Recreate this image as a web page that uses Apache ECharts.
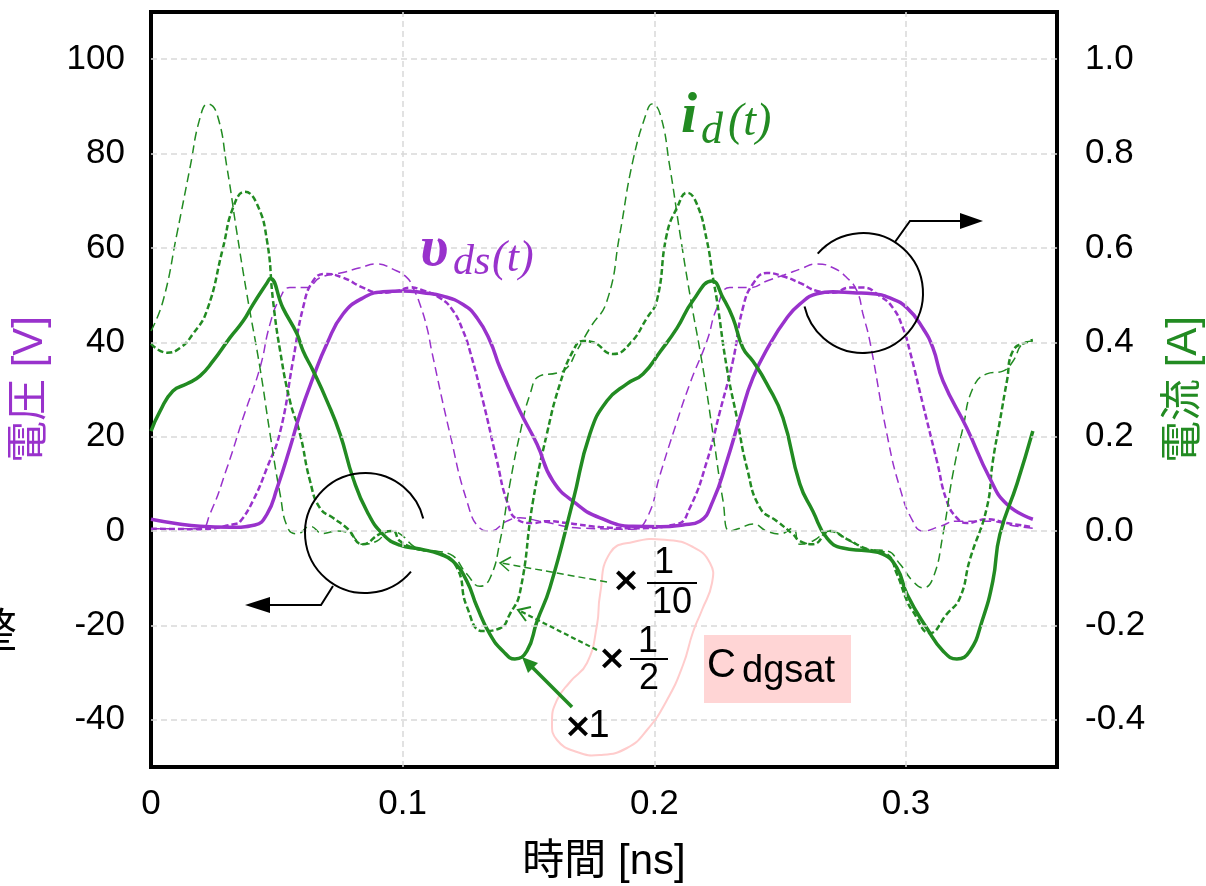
<!DOCTYPE html>
<html>
<head>
<meta charset="utf-8">
<script src="https://cdn.jsdelivr.net/npm/echarts@6/dist/echarts.min.js"></script>
<style>
  html, body { margin: 0; padding: 0; background: #fff; }
  #chart { width: 1206px; height: 886px; }
</style>
</head>
<body>
<div id="chart"></div>
<script>
// Drain-source voltage v_ds(t) [V] for C_dgsat x1, x1/2, x1/10 : [time ns, volts]
const vdsX1 = [
  [0, 2.5], [0.0099, 1.6], [0.0195, 1.0], [0.0314, 0.8], [0.0413, 1.3], [0.0461, 3.6],
  [0.0501, 9.1], [0.0552, 17.6], [0.0592, 24.8], [0.0644, 32.5], [0.0699, 39.7],
  [0.0763, 46], [0.0842, 49.4], [0.0922, 50.7], [0.1001, 50.9], [0.1081, 50.5],
  [0.116, 49.8], [0.124, 48], [0.1295, 45.2], [0.1347, 40.3], [0.1387, 34.6],
  [0.1466, 25.4], [0.1534, 18.4], [0.1597, 10.6], [0.1692, 5.7], [0.1784, 2.8],
  [0.1915, 1.0], [0.2023, 0.9], [0.2114, 1.3], [0.2181, 2.1], [0.2233, 6.4],
  [0.2288, 14.8], [0.234, 24], [0.2392, 32.5], [0.2459, 39.6], [0.2527, 45.2],
  [0.2578, 48.1], [0.2646, 50.3], [0.271, 50.7], [0.2789, 50.5], [0.2868, 50.3],
  [0.2936, 49.4], [0.3004, 47.3], [0.3067, 43], [0.3107, 38.8], [0.3147, 31.8],
  [0.3242, 21.8], [0.3333, 11.2], [0.3401, 5.7], [0.3504, 2.5]
];
const vdsHalf = [
  [0, 0.5], [0.0195, 0.4], [0.0334, 1.5], [0.0354, 2.0], [0.0405, 6.4], [0.0461, 13.4],
  [0.0513, 21], [0.0564, 36], [0.0604, 47.3], [0.0644, 53], [0.0691, 54.5],
  [0.0763, 53.7], [0.0842, 51.6], [0.091, 50.5], [0.0977, 50.9], [0.1029, 51.6],
  [0.1081, 51], [0.1148, 49.4], [0.12, 46.7], [0.124, 42.4], [0.1267, 38.2],
  [0.1319, 27.6], [0.1375, 14.8], [0.1414, 6.4], [0.1454, 2.5], [0.1518, 1.7],
  [0.1573, 2.1], [0.1653, 1.7], [0.1784, 0.85], [0.1915, 0.6], [0.209, 1.5],
  [0.2141, 4.9], [0.2209, 14.8], [0.2261, 25.4], [0.2312, 36], [0.2352, 47.3],
  [0.2392, 52.4], [0.2447, 54.7], [0.2511, 54], [0.2578, 52.6], [0.2646, 50.9],
  [0.271, 50.5], [0.2777, 51.6], [0.2829, 51.6], [0.2896, 49.8], [0.2948, 47.3],
  [0.2988, 43], [0.3015, 38.2], [0.3067, 26.9], [0.3123, 14.8], [0.3162, 6.4],
  [0.3202, 2.8], [0.3242, 1.7], [0.3321, 2.5], [0.3401, 1.7], [0.3504, 0.85]
];
const vdsTenth = [
  [0, 0.5], [0.0195, 0.5], [0.0234, 3.6], [0.0302, 13.4], [0.0366, 24], [0.0433, 34.6],
  [0.0473, 43.9], [0.0513, 49.4], [0.0552, 51.6], [0.062, 51.6], [0.0671, 53.7],
  [0.0763, 54.8], [0.083, 55.8], [0.0898, 56.6], [0.0961, 55.5], [0.1017, 53.7],
  [0.1041, 51.6], [0.1069, 48], [0.1097, 43], [0.1116, 38], [0.1188, 20.6],
  [0.1255, 6.4], [0.1307, 0.6], [0.1347, 0], [0.1414, 2.1], [0.1466, 2.8],
  [0.1545, 2.1], [0.1716, 0.6], [0.1915, 0.4], [0.1971, 2.8], [0.2023, 12],
  [0.2074, 20.6], [0.2141, 31.2], [0.2209, 40.3], [0.2249, 47.3], [0.23, 51.6],
  [0.238, 51.6], [0.2447, 53], [0.2527, 54.5], [0.2578, 55.5], [0.2646, 56.6],
  [0.271, 55.8], [0.2765, 53.7], [0.2805, 50.9], [0.2829, 46], [0.2856, 40.3],
  [0.2924, 20.6], [0.2976, 9.1], [0.3027, 2.1], [0.3067, 0], [0.3135, 1],
  [0.3202, 2.1], [0.3321, 2.1], [0.3441, 1], [0.3504, 0.6]
];

// Drain current i_d(t) [A] for the same three cases : [time ns, amperes]
const idX1 = [
  [0, 0.212], [0.0036, 0.254], [0.0087, 0.297], [0.0143, 0.312], [0.0195, 0.329],
  [0.0246, 0.36], [0.0314, 0.41], [0.0366, 0.445], [0.0405, 0.48], [0.0461, 0.526],
  [0.0473, 0.535], [0.0524, 0.473], [0.058, 0.418], [0.0604, 0.382], [0.0644, 0.34],
  [0.0699, 0.276], [0.0751, 0.206], [0.0803, 0.112], [0.0858, 0.042], [0.0922, -0.007],
  [0.0989, -0.03], [0.1069, -0.038], [0.1148, -0.049], [0.12, -0.064], [0.1255, -0.106],
  [0.1295, -0.16], [0.1347, -0.219], [0.1398, -0.254], [0.1446, -0.271], [0.1494, -0.254],
  [0.1534, -0.191], [0.1585, -0.12], [0.1677, 0.064], [0.1744, 0.206], [0.1812, 0.276],
  [0.1891, 0.312], [0.1955, 0.333], [0.2023, 0.38], [0.209, 0.43], [0.2153, 0.488],
  [0.2229, 0.53], [0.2273, 0.494], [0.2312, 0.452], [0.2352, 0.388], [0.2392, 0.36],
  [0.2447, 0.312], [0.2511, 0.24], [0.2578, 0.1], [0.263, 0.042], [0.2686, -0.015],
  [0.2749, -0.036], [0.2845, -0.042], [0.2908, -0.049], [0.2964, -0.078], [0.3004, -0.134],
  [0.3083, -0.206], [0.3147, -0.254], [0.3202, -0.271], [0.3254, -0.254], [0.3302, -0.191],
  [0.3345, -0.106], [0.3373, -0.007], [0.3441, 0.1], [0.3504, 0.212]
];
const idHalf = [
  [0, 0.397], [0.0064, 0.378], [0.0115, 0.388], [0.0167, 0.418], [0.0222, 0.467],
  [0.0286, 0.6], [0.0326, 0.685], [0.0373, 0.719], [0.0421, 0.693], [0.0461, 0.615],
  [0.0485, 0.488], [0.0513, 0.382], [0.0552, 0.276], [0.0592, 0.206], [0.0632, 0.106],
  [0.0671, 0.049], [0.0723, 0.028], [0.0779, 0.006], [0.0842, -0.028], [0.091, -0.006],
  [0.0961, 0], [0.0989, -0.021], [0.1057, -0.038], [0.1148, -0.047], [0.1216, -0.078],
  [0.1255, -0.16], [0.1319, -0.212], [0.1387, -0.206], [0.1426, -0.176], [0.1466, -0.13],
  [0.1518, 0.064], [0.1573, 0.206], [0.1625, 0.312], [0.1677, 0.382], [0.1716, 0.403],
  [0.1756, 0.4], [0.1836, 0.375], [0.1903, 0.397], [0.1971, 0.452], [0.201, 0.488],
  [0.205, 0.63], [0.209, 0.685], [0.213, 0.717], [0.2169, 0.693], [0.2209, 0.615],
  [0.2233, 0.537], [0.2249, 0.488], [0.2288, 0.346], [0.2328, 0.24], [0.2368, 0.134],
  [0.242, 0.049], [0.2487, 0.021], [0.2551, -0.007], [0.2578, -0.021], [0.263, -0.028],
  [0.2698, 0], [0.2765, -0.017], [0.2845, -0.038], [0.2924, -0.049], [0.2964, -0.091],
  [0.3004, -0.148], [0.3027, -0.17], [0.3095, -0.216], [0.3162, -0.176], [0.3214, -0.142],
  [0.3254, -0.06], [0.3321, 0.049], [0.3345, 0.148], [0.3373, 0.233], [0.3401, 0.318],
  [0.3425, 0.382], [0.3492, 0.403], [0.3504, 0.405]
];
const idTenth = [
  [0, 0.424], [0.0048, 0.488], [0.0103, 0.63], [0.0155, 0.77], [0.0195, 0.876],
  [0.0226, 0.905], [0.0262, 0.884], [0.0302, 0.77], [0.0342, 0.63], [0.0381, 0.502],
  [0.0433, 0.346], [0.0473, 0.206], [0.0513, 0.078], [0.0544, 0.006], [0.058, -0.006],
  [0.0632, 0.01], [0.0683, -0.005], [0.0739, 0], [0.0791, -0.006], [0.0842, -0.028],
  [0.0898, -0.021], [0.095, 0], [0.0989, -0.006], [0.1057, -0.036], [0.112, -0.042],
  [0.1188, -0.049], [0.1255, -0.091], [0.1307, -0.117], [0.1347, -0.1], [0.1387, -0.021],
  [0.1426, 0.1], [0.1466, 0.206], [0.1506, 0.29], [0.1545, 0.329], [0.1613, 0.335],
  [0.1653, 0.346], [0.1692, 0.382], [0.1744, 0.43], [0.1812, 0.488], [0.1863, 0.63],
  [0.1915, 0.785], [0.1971, 0.89], [0.199, 0.905], [0.2023, 0.884], [0.2062, 0.77],
  [0.2102, 0.63], [0.2141, 0.502], [0.2193, 0.346], [0.2233, 0.206], [0.2273, 0.064],
  [0.23, 0], [0.234, 0.006], [0.2392, 0.015], [0.2447, 0], [0.2499, -0.006],
  [0.2551, 0.006], [0.2578, -0.028], [0.263, -0.021], [0.2698, 0], [0.2777, -0.021],
  [0.2845, -0.038], [0.2924, -0.042], [0.2976, -0.07], [0.3027, -0.106], [0.3067, -0.12],
  [0.3107, -0.1], [0.3147, -0.007], [0.3186, 0.12], [0.3226, 0.218], [0.3266, 0.303],
  [0.3321, 0.333], [0.3385, 0.339], [0.3425, 0.36], [0.3464, 0.397], [0.3504, 0.403]
];

// Tick labels
const xTickLabels = ['0', '0.1', '0.2', '0.3'];
const voltTickLabels = ['-40', '-20', '0', '20', '40', '60', '80', '100'];
const ampTickLabels = ['-0.4', '-0.2', '0.0', '0.2', '0.4', '0.6', '0.8', '1.0'];

const PURPLE = '#9932CC';
const GREEN = '#228B22';
const GRIDLINE = '#d9d9d9';
const SANS = "'Liberation Sans', Arial, sans-serif";
const CJK = "'Liberation Sans', 'Noto Sans CJK JP', sans-serif";
const SERIF = "'Liberation Serif', 'DejaVu Serif', serif";

function pickLabel(list) {
  return function (v) {
    const hit = list.find(l => Math.abs(Number(l) - v) < 1e-6);
    return hit === undefined ? '' : hit;
  };
}

function lineSeries(name, data, axis, color, width, dash) {
  return {
    name, type: 'line', data, yAxisIndex: axis, showSymbol: false, symbol: 'none',
    smooth: 0.5, silent: true,
    lineStyle: { color, width, type: dash }
  };
}

const chart = echarts.init(document.getElementById('chart'), null, { renderer: 'canvas' });

const blackText = (text, x, y, font) => ({
  type: 'text', x, y, z: 20,
  style: { text, fill: '#000', font,
    align: 'center', verticalAlign: 'middle', textAlign: 'center', textVerticalAlign: 'middle' }
});
const DIGIT = '36px ' + SANS;
const TIMES = "bold 34px 'DejaVu Sans', sans-serif";

chart.setOption({
  animation: false,
  backgroundColor: '#fff',
  grid: { left: 151, right: 149, top: 12, bottom: 119, show: true,
          borderColor: '#000', borderWidth: 4, backgroundColor: 'transparent',
          outerBoundsMode: 'none' },
  xAxis: {
    type: 'value', min: 0, max: 0.36, interval: 0.1,
    name: '時間 [ns]', nameLocation: 'middle', nameGap: 74,
    nameTextStyle: { fontSize: 42, fontFamily: CJK, color: '#000' },
    axisLine: { show: false }, axisTick: { show: false }, splitLine: { show: false },
    axisLabel: { fontSize: 35, fontFamily: SANS, color: '#000', margin: 20,
                 showMaxLabel: false, formatter: pickLabel(xTickLabels) }
  },
  yAxis: [
    {
      type: 'value', min: -50, max: 110, interval: 10, position: 'left',
      name: '電圧 [V]', nameLocation: 'middle', nameGap: 100, nameRotate: 90,
      nameTextStyle: { fontSize: 42, fontFamily: CJK, color: PURPLE },
      axisLine: { show: false }, axisTick: { show: false }, splitLine: { show: false },
      axisLabel: { fontSize: 35, fontFamily: SANS, color: '#000', margin: 26,
                   formatter: pickLabel(voltTickLabels) }
    },
    {
      type: 'value', min: -0.5, max: 1.1, interval: 0.1, position: 'right',
      name: '電流 [A]', nameLocation: 'middle', nameGap: 106, nameRotate: 90,
      nameTextStyle: { fontSize: 42, fontFamily: CJK, color: GREEN },
      axisLine: { show: false }, axisTick: { show: false }, splitLine: { show: false },
      axisLabel: { fontSize: 35, fontFamily: SANS, color: '#000', margin: 28,
                   formatter: pickLabel(ampTickLabels) }
    }
  ],
  series: [
    {
      type: 'line', data: [], silent: true, z: 1,
      markLine: {
        silent: true, symbol: 'none', label: { show: false }, animation: false,
        lineStyle: { color: GRIDLINE, type: [6, 4], width: 1.5 },
        data: voltTickLabels.map(v => ({ yAxis: Number(v) }))
          .concat(xTickLabels.slice(1).map(v => ({ xAxis: Number(v) })))
      }
    },
    lineSeries('vds 1/10', vdsTenth, 0, PURPLE, 1.5, [9, 5]),
    lineSeries('vds 1/2', vdsHalf, 0, PURPLE, 2.5, [6, 3]),
    lineSeries('id 1/10', idTenth, 1, GREEN, 1.5, [9, 5]),
    lineSeries('id 1/2', idHalf, 1, GREEN, 2.5, [6, 3]),
    lineSeries('vds x1', vdsX1, 0, PURPLE, 3.5, 'solid'),
    lineSeries('id x1', idX1, 1, GREEN, 3.5, 'solid')
  ],
  graphic: [
    // waveform names
    { type: 'text', x: 420, y: 250, z: 20, style: { text: 'υ', fill: PURPLE,
      font: 'italic bold 58px ' + SERIF, verticalAlign: 'middle', textVerticalAlign: 'middle' } },
    { type: 'text', x: 453, y: 263, z: 20, style: { text: 'ds', fill: PURPLE,
      font: 'italic 42px ' + SERIF, verticalAlign: 'middle', textVerticalAlign: 'middle' } },
    { type: 'text', x: 492, y: 259, z: 20, style: { text: '(t)', fill: PURPLE,
      font: 'italic 44px ' + SERIF, verticalAlign: 'middle', textVerticalAlign: 'middle' } },
    { type: 'text', x: 681, y: 117, z: 20, style: { text: 'i', fill: GREEN,
      font: 'italic bold 58px ' + SERIF, verticalAlign: 'middle', textVerticalAlign: 'middle' } },
    { type: 'text', x: 701, y: 131, z: 20, style: { text: 'd', fill: GREEN,
      font: 'italic 44px ' + SERIF, verticalAlign: 'middle', textVerticalAlign: 'middle' } },
    { type: 'text', x: 728, y: 123, z: 20, style: { text: '(t)', fill: GREEN,
      font: 'italic 46px ' + SERIF, verticalAlign: 'middle', textVerticalAlign: 'middle' } },

    // left-axis marker: circle with arrow to the left
    { type: 'arc', z: 20, shape: { cx: 365, cy: 533, r: 60,
      startAngle: 40 * Math.PI / 180, endAngle: 346 * Math.PI / 180, clockwise: true },
      style: { stroke: '#000', lineWidth: 2, fill: null } },
    { type: 'polyline', z: 20, shape: { points: [[333, 586], [321, 605], [266, 605]] },
      style: { stroke: '#000', lineWidth: 2, fill: null } },
    { type: 'polygon', z: 20, shape: { points: [[245, 605], [270, 597], [270, 613]] },
      style: { fill: '#000' } },

    // right-axis marker: circle with arrow to the right
    { type: 'arc', z: 20, shape: { cx: 863, cy: 293, r: 60,
      startAngle: 221 * Math.PI / 180, endAngle: 527 * Math.PI / 180, clockwise: true },
      style: { stroke: '#000', lineWidth: 2, fill: null } },
    { type: 'polyline', z: 20, shape: { points: [[895, 242], [910, 221], [964, 221]] },
      style: { stroke: '#000', lineWidth: 2, fill: null } },
    { type: 'polygon', z: 20, shape: { points: [[983, 221], [960, 213], [960, 229]] },
      style: { fill: '#000' } },

    // grouping outline around the scale factors
    { type: 'polygon', z: 15, shape: { smooth: 0.5, points: [
      [610, 553], [633, 542], [667, 540], [693, 547], [710, 563], [712, 583], [702, 610],
      [693, 632], [683, 665], [667, 700], [647, 730], [627, 748], [600, 755], [577, 752],
      [557, 740], [552, 722], [557, 700], [570, 682], [587, 663], [597, 625], [600, 595]] },
      style: { fill: null, stroke: '#ffcccc', lineWidth: 2 } },

    // x 1/10
    { type: 'polyline', z: 20, shape: { points: [[607, 582], [501, 563]] },
      style: { stroke: GREEN, lineWidth: 1.5, lineDash: [7, 4], fill: null } },
    { type: 'polyline', z: 20, shape: { points: [[511, 557], [500, 563], [509, 571]] },
      style: { stroke: GREEN, lineWidth: 1.5, fill: null } },
    blackText('×', 626, 582, TIMES),
    blackText('1', 664, 563, DIGIT),
    blackText('10', 672, 603, DIGIT),
    { type: 'line', z: 20, shape: { x1: 647, y1: 583, x2: 697, y2: 583 },
      style: { stroke: '#000', lineWidth: 2 } },

    // x 1/2
    { type: 'polyline', z: 20, shape: { points: [[597, 650], [520, 611]] },
      style: { stroke: GREEN, lineWidth: 2.2, lineDash: [5, 3], fill: null } },
    { type: 'polyline', z: 20, shape: { points: [[531, 607], [518, 610], [526, 621]] },
      style: { stroke: GREEN, lineWidth: 2, fill: null } },
    blackText('×', 612, 660, TIMES),
    blackText('1', 648, 642, DIGIT),
    blackText('2', 649, 679, DIGIT),
    { type: 'line', z: 20, shape: { x1: 630, y1: 659, x2: 668, y2: 659 },
      style: { stroke: '#000', lineWidth: 2 } },

    // x 1
    { type: 'line', z: 20, shape: { x1: 572, y1: 707, x2: 529, y2: 664 },
      style: { stroke: GREEN, lineWidth: 3.5 } },
    { type: 'polygon', z: 20, shape: { points: [[522, 657], [538, 663], [528, 673]] },
      style: { fill: GREEN } },
    blackText('×', 578, 728, TIMES),
    blackText('1', 599, 727, '38px ' + SANS),

    // C_dgsat tag
    { type: 'rect', z: 15, shape: { x: 704, y: 635, width: 147, height: 68 },
      style: { fill: '#ffd5d5' } },
    { type: 'text', x: 707, y: 666, z: 20, style: { text: 'C', fill: '#000',
      font: '40px ' + SANS, verticalAlign: 'middle', textVerticalAlign: 'middle' } },
    { type: 'text', x: 742, y: 672, z: 20, style: { text: 'dgsat', fill: '#000',
      font: '38px ' + SANS, verticalAlign: 'middle', textVerticalAlign: 'middle' } },

    // neighbouring figure text at the left edge
    { type: 'text', x: 17, y: 629, z: 20, style: { text: '整', fill: '#000',
      font: "46px 'Noto Sans CJK JP', sans-serif", align: 'right', textAlign: 'right',
      verticalAlign: 'middle', textVerticalAlign: 'middle' } }
  ]
});
</script>
</body>
</html>
